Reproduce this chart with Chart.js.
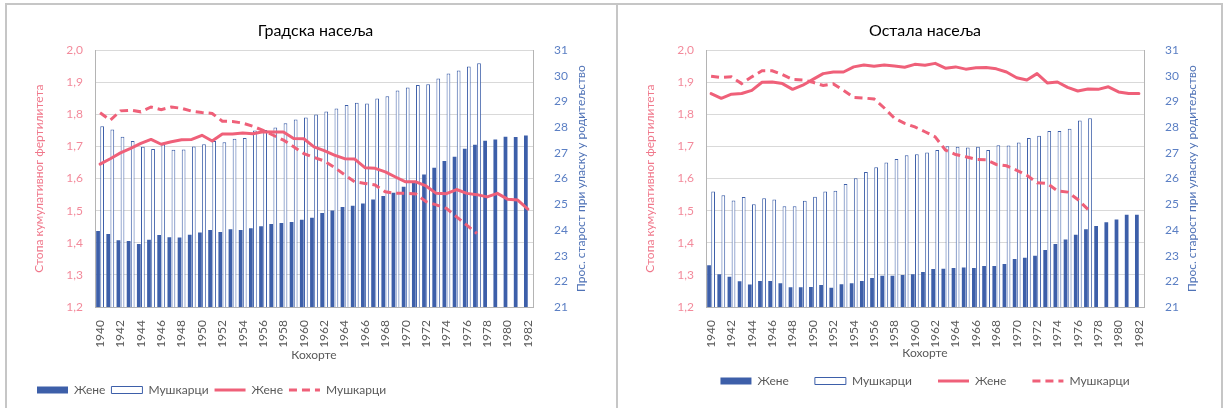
<!DOCTYPE html>
<html>
<head>
<meta charset="utf-8">
<script src="https://cdn.jsdelivr.net/npm/chart.js@4.4.1/dist/chart.umd.min.js"></script>
<style>
html,body{margin:0;padding:0;background:#fff;width:1224px;height:408px;overflow:hidden;}
.frame{position:absolute;top:3px;height:420px;border-top:2px solid #c6c6c6;border-left:2px solid #c6c6c6;box-sizing:border-box;}
#f1{left:5px;width:612px;}
#f2{left:616px;width:607px;border-right:2px solid #c6c6c6;}
canvas{position:absolute;top:6px;}
#c1{left:8px;}
#c2{left:619px;}
</style>
</head>
<body>
<div class="frame" id="f1"></div>
<div class="frame" id="f2"></div>
<canvas id="c1" width="608" height="402" style="width:608px;height:402px"></canvas>
<canvas id="c2" width="603" height="402" style="width:603px;height:402px"></canvas>
<script>
// ---------- DATA ----------
const years = [1940,1941,1942,1943,1944,1945,1946,1947,1948,1949,
               1950,1951,1952,1953,1954,1955,1956,1957,1958,1959,
               1960,1961,1962,1963,1964,1965,1966,1967,1968,1969,
               1970,1971,1972,1973,1974,1975,1976,1977,1978,1979,
               1980,1981,1982];

const seriesNames = ['Жене', 'Мушкарци'];

// Градска насеља (urban)
const urbanWomenAge = [23.96,23.84,23.6,23.57,23.45,23.62,23.8,23.72,23.71,23.81,
                       23.9,24.0,23.92,24.03,24.0,24.07,24.14,24.23,24.27,24.31,
                       24.4,24.48,24.66,24.76,24.89,24.94,25.03,25.19,25.32,25.45,
                       25.68,25.88,26.16,26.42,26.69,26.85,27.16,27.32,27.47,27.52,
                       27.63,27.62,27.68];
const urbanMenAge = [28.04,27.91,27.63,27.46,27.24,27.15,27.33,27.12,27.13,27.25,
                     27.34,27.46,27.42,27.55,27.58,27.87,27.89,27.99,28.16,28.3,
                     28.38,28.5,28.61,28.73,28.87,28.95,28.92,29.12,29.21,29.43,
                     29.55,29.64,29.67,29.9,30.09,30.21,30.37,30.49,
                     null,null,null,null,null];
const urbanWomenTFR = [1.645,1.662,1.68,1.694,1.71,1.722,1.707,1.715,1.721,1.722,
                       1.735,1.717,1.739,1.739,1.742,1.74,1.746,1.745,1.745,1.725,
                       1.724,1.699,1.687,1.673,1.662,1.661,1.634,1.632,1.621,1.605,
                       1.59,1.59,1.577,1.554,1.553,1.566,1.554,1.55,1.543,1.554,
                       1.536,1.533,1.505];
const urbanMenTFR = [1.805,1.782,1.811,1.813,1.808,1.823,1.815,1.823,1.819,1.81,
                     1.806,1.803,1.779,1.778,1.773,1.763,1.75,1.735,1.72,1.699,
                     1.678,1.666,1.655,1.635,1.612,1.59,1.585,1.58,1.559,1.554,
                     1.554,1.552,1.528,1.518,1.507,1.481,1.455,1.429,
                     null,null,null,null,null];

// Остала насеља (other)
const ruralWomenAge = [22.63,22.28,22.18,22.0,21.88,22.01,22.01,21.92,21.77,21.77,
                       21.78,21.86,21.75,21.89,21.92,22.01,22.13,22.22,22.22,22.25,
                       22.28,22.36,22.48,22.49,22.52,22.54,22.52,22.6,22.6,22.67,
                       22.87,22.92,23.0,23.22,23.45,23.63,23.81,24.03,24.15,24.3,
                       24.41,24.59,24.59];
const ruralMenAge = [25.5,25.35,25.15,25.28,25.0,25.23,25.19,24.92,24.92,25.14,
                     25.29,25.5,25.53,25.79,26.01,26.26,26.44,26.63,26.76,26.91,
                     26.95,27.02,27.11,27.26,27.24,27.21,27.24,27.11,27.3,27.29,
                     27.41,27.58,27.67,27.85,27.85,27.94,28.26,28.35,
                     null,null,null,null,null];
const ruralWomenTFR = [1.865,1.85,1.863,1.865,1.875,1.9,1.901,1.896,1.878,1.891,
                       1.909,1.927,1.932,1.932,1.948,1.954,1.95,1.954,1.951,1.947,
                       1.956,1.953,1.959,1.944,1.948,1.941,1.945,1.946,1.942,1.932,
                       1.914,1.907,1.927,1.898,1.901,1.884,1.873,1.879,1.878,1.886,
                       1.87,1.865,1.865];
const ruralMenTFR = [1.919,1.915,1.917,1.896,1.917,1.936,1.936,1.924,1.909,1.907,
                     1.9,1.89,1.895,1.875,1.853,1.851,1.848,1.82,1.788,1.772,
                     1.761,1.746,1.73,1.689,1.675,1.668,1.66,1.659,1.644,1.64,
                     1.626,1.61,1.587,1.585,1.562,1.558,1.535,1.504,
                     null,null,null,null,null];

const leftAxisTitle = 'Стопа кумулативног фертилитета';
const rightAxisTitle = 'Прос. старост при уласку у родитељство';
const xAxisTitle = 'Кохорте';

// ---------- STYLE ----------
const FONT = "Lato, 'Open Sans', 'Noto Sans', sans-serif";
const BLUE = '#3d5fa9';
const PINK = '#ef6079';
const GRID = '#d9d9d9';
const AXIS = '#b4b4b4';
const TXT = '#595959';

const rightTitlePlugin = {
  id: 'rightTitle',
  afterDraw(chart, args, opts) {
    const ctx = chart.ctx;
    const sc = chart.scales.y2;
    const ca = chart.chartArea;
    ctx.save();
    ctx.translate(sc.left + opts.offset, (ca.top + ca.bottom) / 2);
    ctx.rotate(-Math.PI / 2);
    ctx.font = '12px ' + FONT;
    ctx.fillStyle = opts.color;
    ctx.textAlign = 'center';
    ctx.textBaseline = 'middle';
    ctx.fillText(opts.text, 0, 0);
    ctx.restore();
  }
};

function makeChart(id, cfg) {
  const legendPad = cfg.legendPad;
  const legendBottom = 402 - cfg.padB;
  const legendTop = legendBottom - (12 + legendPad + 10);
  const plotLeft = 87, plotRight = 525, plotBottom = 301;
  new Chart(document.getElementById(id), {
    data: {
      labels: years,
      datasets: [
        {type: 'bar', label: seriesNames[0], data: cfg.womenAge, yAxisID: 'y2',
         backgroundColor: BLUE, borderWidth: 0, order: 2,
         categoryPercentage: 0.8, barPercentage: 0.92},
        {type: 'bar', label: seriesNames[1], data: cfg.menAge, yAxisID: 'y2',
         backgroundColor: '#ffffff', borderColor: BLUE, borderWidth: 1, order: 3,
         categoryPercentage: 0.8, barPercentage: 0.92},
        {type: 'line', label: seriesNames[0], data: cfg.womenTFR, yAxisID: 'y',
         borderColor: PINK, backgroundColor: PINK, borderWidth: 3, pointRadius: 0,
         tension: 0, order: 0, borderCapStyle: 'round', borderJoinStyle: 'round'},
        {type: 'line', label: seriesNames[1], data: cfg.menTFR, yAxisID: 'y',
         borderColor: PINK, backgroundColor: PINK, borderWidth: 3, pointRadius: 0,
         borderDash: [8, 5], tension: 0, order: 1, spanGaps: false}
      ]
    },
    options: {
      responsive: false,
      animation: false,
      devicePixelRatio: 1,
      layout: {padding: {left: cfg.padL, right: cfg.padR, top: 0, bottom: cfg.padB}},
      plugins: {
        title: {display: true, text: cfg.title, color: '#000000',
                font: {family: FONT, size: 16, weight: 'normal'}, padding: {top: 15, bottom: 10}},
        legend: {
          position: 'bottom', align: cfg.legendAlign,
          labels: {
            font: {family: FONT, size: 12}, color: TXT, padding: legendPad,
            usePointStyle: true, pointStyleWidth: 31, boxWidth: 31, boxHeight: 7,
            generateLabels: (chart) => chart.data.datasets.map((ds, i) => ({
              text: ds.label, datasetIndex: i, hidden: false,
              fillStyle: ds.type === 'bar' ? ds.backgroundColor : ds.borderColor,
              strokeStyle: ds.borderColor || ds.backgroundColor,
              lineWidth: ds.type === 'bar' ? (ds.borderWidth || 0) : 3,
              lineDash: ds.borderDash || [],
              pointStyle: ds.type === 'bar' ? 'rect' : 'line',
              fontColor: TXT
            }))
          }
        },
        tooltip: {enabled: false},
        rightTitle: {text: rightAxisTitle, color: '#4f72b6', offset: 48}
      },
      scales: {
        x: {
          type: 'category', offset: true,
          grid: {display: false},
          border: {display: true, color: AXIS, width: 1},
          ticks: {autoSkip: false, minRotation: 90, maxRotation: 90, padding: 5,
                  color: TXT, font: {family: FONT, size: 12},
                  callback: (v, i) => (i % 2 === 0 ? String(years[i]) : '')},
          title: {display: true, text: xAxisTitle, color: TXT,
                  font: {family: FONT, size: 12},
                  padding: {top: 0, bottom: legendTop - cfg.xTitleY - 7.2}},
          afterFit: (s) => { s.height = legendTop - plotBottom; }
        },
        y: {
          type: 'linear', position: 'left', min: 1.2, max: 2.0,
          grid: {color: GRID, drawTicks: false},
          border: {display: true, color: AXIS, width: 1},
          ticks: {stepSize: 0.1, padding: 12, color: '#f38a9b',
                  font: {family: FONT, size: 12},
                  callback: (v) => v.toFixed(1).replace('.', ',')},
          title: {display: true, text: leftAxisTitle, color: '#f0788b',
                  font: {family: FONT, size: 12}, padding: {top: cfg.ltPad, bottom: 0}},
          afterFit: (s) => { s.width = plotLeft - cfg.padL; }
        },
        y2: {
          type: 'linear', position: 'right', min: 21, max: 31,
          grid: {display: false},
          border: {display: true, color: AXIS, width: 1},
          ticks: {stepSize: 1, padding: 13, color: '#5b7fc4',
                  font: {family: FONT, size: 12}},
          afterFit: (s) => { s.width = cfg.width - cfg.padR - plotRight; }
        }
      }
    },
    plugins: [rightTitlePlugin]
  });
}

makeChart('c1', {
  title: 'Градска насеља', width: 608, padL: 23, padR: 16, padB: 2, ltPad: 1,
  legendPad: 6, legendAlign: 'start', xTitleY: 349,
  womenAge: urbanWomenAge, menAge: urbanMenAge,
  womenTFR: urbanWomenTFR, menTFR: urbanMenTFR
});
makeChart('c2', {
  title: 'Остала насеља', width: 603, padL: 9, padR: 0, padB: 11, ltPad: 14.8,
  legendPad: 26, legendAlign: 'center', xTitleY: 347,
  womenAge: ruralWomenAge, menAge: ruralMenAge,
  womenTFR: ruralWomenTFR, menTFR: ruralMenTFR
});
</script>
</body>
</html>
